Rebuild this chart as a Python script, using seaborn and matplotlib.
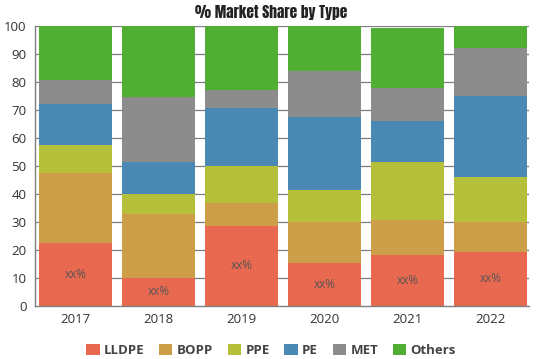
import numpy as np
import pandas as pd
import matplotlib
matplotlib.use("Agg")
import matplotlib.pyplot as plt
import seaborn as sns
from matplotlib.patches import Patch

years = ["2017", "2018", "2019", "2020", "2021", "2022"]
series = ["LLDPE", "BOPP", "PPE", "PE", "MET", "Others"]
lldpe = [22.4, 10.1, 28.6, 15.2, 18.3, 19.3]
bopp = [25.0, 22.8, 8.3, 14.9, 12.4, 10.8]
ppe = [10.1, 7.1, 13.2, 11.3, 20.8, 15.9]
pe = [14.5, 11.3, 20.7, 26.2, 14.7, 29.1]
met = [8.7, 23.2, 6.3, 16.3, 11.5, 16.9]
others = [19.3, 25.5, 22.9, 16.1, 21.7, 8.0]
colors = ["#E8694F", "#CC9E47", "#B5BF3A", "#4A89B3", "#8C8C8C", "#4FAE33"]
labels = ["xx%"] * 6

sns.set_style("white")
plt.rcParams['font.family'] = ['Open Sans', 'DejaVu Sans']

values = [lldpe, bopp, ppe, pe, met, others]
cum = np.cumsum(np.array(values), axis=0)

fig = plt.figure(figsize=(5.39, 3.59), dpi=100)
ax = fig.add_axes([35/539, 1-306/359, (529-35)/539, (306-26)/359])

for yv in range(10, 101, 10):
    ax.axhline(yv, color="#7f7f7f", lw=0.9, zorder=0)

for i in range(len(series) - 1, -1, -1):
    df = pd.DataFrame({"year": years, "val": cum[i]})
    sns.barplot(data=df, x="year", y="val", color=colors[i], saturation=1,
                width=0.88, ax=ax, zorder=2, linewidth=0)

for j, y in enumerate(years):
    ax.text(j, lldpe[j] / 2, labels[j], ha="center", va="center",
            fontsize=8.5, color="#555555", zorder=5)

ax.set_xlim(-0.49, 5.46)
ax.set_ylim(0, 100)
ax.set_yticks(range(0, 101, 10))
ax.set_xlabel("")
ax.set_ylabel("")
for s in ["top", "right"]:
    ax.spines[s].set_visible(False)
for s in ["left", "bottom"]:
    ax.spines[s].set_color("#7f7f7f")
    ax.spines[s].set_linewidth(1.0)
ax.tick_params(axis="both", labelsize=9.5, colors="#333333", length=4, width=0.9)
ax.tick_params(axis="both", color="#7f7f7f")
ax.tick_params(axis="x", length=0, pad=5)
ax.tick_params(axis="y", pad=2)

fig.text(0.503, 0.965, "% Market Share by Type", ha="center", va="center",
         fontsize=11,
         family=['Anton', 'Oswald', 'DejaVu Sans'], color="#222222")

handles = [Patch(facecolor=c, edgecolor="none") for c in colors]
fig.legend(handles, series, loc="center", bbox_to_anchor=(0.503, 0.024), ncol=6,
           frameon=False, handlelength=1.0, handleheight=1.0,
           handletextpad=0.35, columnspacing=1.1,
           prop={"family": "Open Sans", "weight": "bold", "size": 9.5})
for t in fig.legends[0].get_texts():
    t.set_color("#444444")

fig.savefig("out.png", dpi=100)
